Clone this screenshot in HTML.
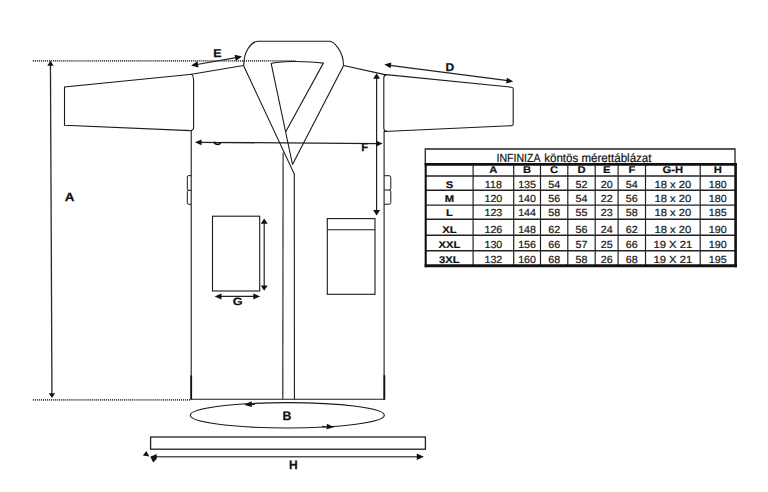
<!DOCTYPE html>
<html><head><meta charset="utf-8"><title>INFINIZA köntös mérettáblázat</title>
<style>html,body{margin:0;padding:0;background:#fff;width:768px;height:492px;overflow:hidden}svg{display:block}</style>
</head><body>
<svg width="768" height="492" viewBox="0 0 768 492" text-rendering="geometricPrecision"><line x1="32.8" y1="60.85" x2="295.5" y2="60.85" stroke="#3a3a3a" stroke-width="1.9" stroke-dasharray="1.05,0.98"/>
<line x1="32.8" y1="399.9" x2="191" y2="399.9" stroke="#3a3a3a" stroke-width="1.9" stroke-dasharray="1.05,0.98"/>
<line x1="50.45" y1="64" x2="51.95" y2="394" stroke="#2a2a2a" stroke-width="1.3"/>
<polygon points="50.45,60.70 53.58,65.67 47.32,65.67" fill="#111"/>
<polygon points="51.95,398.10 48.82,393.13 55.08,393.13" fill="#111"/>
<path d="M192,74.3 L64.5,86.9 L64.5,125.3 L190.5,130.6" stroke="#1a1a1a" fill="none" stroke-width="1.1"/>
<path d="M191.6,74.4 Q194,76 193.6,84 L193.6,127 Q193.6,130.5 190.6,130.6" stroke="#1a1a1a" fill="none" stroke-width="1.1"/>
<path d="M191.5,74.3 L243.5,65.5" stroke="#1a1a1a" fill="none" stroke-width="1.1"/>
<path d="M191.2,130.5 L191.2,399.2" stroke="#1a1a1a" fill="none" stroke-width="1.1"/>
<path d="M191.2,375.5 L191.2,399.5" stroke="#111" stroke-width="1.8"/>
<path d="M190.6,399.2 L384.3,399.2" stroke="#1a1a1a" fill="none" stroke-width="1.1"/>
<path d="M386.2,74.9 Q383.8,75.2 383.8,78 L383.8,128 Q383.8,131.3 387,131.3" stroke="#1a1a1a" fill="none" stroke-width="1.1"/>
<path d="M384.1,131 L384.1,399.2" stroke="#1a1a1a" fill="none" stroke-width="1.1"/>
<path d="M384.4,375.2 L384.4,399.8" stroke="#111" stroke-width="1.7"/>
<path d="M343.6,65.5 L383.8,74.4 L511.5,87.2 Q513.2,87.3 513.2,89 L513.2,124 Q513.2,125.6 511.5,125.7 L384,131.5" stroke="#1a1a1a" fill="none" stroke-width="1.1"/>
<path d="M243.7,65.5 C243.7,50 252,41.3 258.5,41.3 L329.7,41.3 C333,41.3 343.5,50 343.5,65.5" stroke="#1a1a1a" fill="none" stroke-width="1.1"/>
<path d="M243.5,65.5 L294.3,174 L294.4,399.2" stroke="#1a1a1a" fill="none" stroke-width="1.1"/>
<path d="M343.6,65.5 L292.5,164.5" stroke="#1a1a1a" fill="none" stroke-width="1.1"/>
<path d="M292.5,164.5 L271.2,63.6 C277,61.2 305,60.5 323.4,63.1 L286.0,131.3" stroke="#1a1a1a" fill="none" stroke-width="1.1"/>
<path d="M283.1,152.5 L282.8,399.2" stroke="#1a1a1a" fill="none" stroke-width="1.1"/>
<path d="M191.2,175.6 L188.6,175.6 Q187.3,175.6 187.3,177 L187.3,188.8 Q187.3,190.3 189,190.3 L191.2,190.3 M189,190.3 Q187.3,190.3 187.3,191.8 L187.3,202.8 Q187.3,204.3 189,204.3 L191.2,204.3" stroke="#1a1a1a" fill="none" stroke-width="1"/>
<path d="M384.2,175.7 L389,175.7 Q390.8,175.7 390.8,177.5 L390.8,188.3 Q390.8,190 389,190 L384.2,190 M389,190 Q390.8,190 390.8,191.8 L390.8,202.5 Q390.8,204.2 389,204.2 L384.2,204.2" stroke="#1a1a1a" fill="none" stroke-width="1"/>
<rect x="212.5" y="216.2" width="47.2" height="74.8" stroke="#1a1a1a" fill="none" stroke-width="1.1"/>
<rect x="327.3" y="218.6" width="47.7" height="75.7" stroke="#1a1a1a" fill="none" stroke-width="1.1"/>
<line x1="327.3" y1="229.8" x2="375" y2="229.8" stroke="#1a1a1a" fill="none" stroke-width="1.1"/>
<line x1="264.2" y1="222" x2="264.2" y2="287" stroke="#222" stroke-width="1.2"/>
<polygon points="264.20,218.40 267.66,223.80 260.74,223.80" fill="#111"/>
<polygon points="264.20,290.80 260.74,285.40 267.66,285.40" fill="#111"/>
<line x1="218" y1="296.4" x2="257" y2="296.4" stroke="#222" stroke-width="1.2"/>
<polygon points="214.60,296.40 221.51,293.38 221.51,299.42" fill="#111"/>
<polygon points="260.20,296.40 253.29,299.42 253.29,293.38" fill="#111"/>
<line x1="194" y1="65" x2="239" y2="57.1" stroke="#222" stroke-width="1.2"/>
<polygon points="191.10,65.50 197.48,61.21 198.55,67.38" fill="#111"/>
<polygon points="242.10,56.60 235.72,60.89 234.65,54.72" fill="#111"/>
<line x1="388" y1="65.2" x2="508" y2="80.7" stroke="#222" stroke-width="1.2"/>
<polygon points="384.30,64.50 391.32,62.48 390.56,68.26" fill="#111"/>
<polygon points="513.20,81.40 506.18,83.42 506.94,77.64" fill="#111"/>
<line x1="376.6" y1="76" x2="376.6" y2="212" stroke="#222" stroke-width="1.2"/>
<polygon points="376.60,73.20 380.06,78.82 373.14,78.82" fill="#111"/>
<polygon points="376.60,215.50 373.14,209.88 380.06,209.88" fill="#111"/>
<line x1="198" y1="142.35" x2="378" y2="143.55" stroke="#222" stroke-width="1.3"/>
<polygon points="195.00,142.30 201.48,139.38 201.48,145.22" fill="#111"/>
<polygon points="382.70,143.60 376.22,146.52 376.22,140.68" fill="#111"/>
<ellipse cx="287.3" cy="415.3" rx="97" ry="12.7" stroke="#1a1a1a" fill="none" stroke-width="1.1"/>
<line x1="246" y1="404.6" x2="255" y2="404.3" stroke="#222" stroke-width="1.2"/>
<polygon points="244.20,404.70 251.51,401.30 251.96,406.90" fill="#111"/>
<line x1="322" y1="426.4" x2="330" y2="427" stroke="#222" stroke-width="1.2"/>
<polygon points="334.20,427.30 326.40,429.34 326.96,423.75" fill="#111"/>
<rect x="150.6" y="437" width="274.8" height="12.2" stroke="#2a2a2a" fill="none" stroke-width="1.35"/>
<line x1="155" y1="456.8" x2="418" y2="456.8" stroke="#555" stroke-width="1.6"/>
<polygon points="423.80,456.80 416.78,460.04 416.78,453.56" fill="#111"/>
<polygon points="146.3,451.1 142.9,455.6 149.3,456.5" fill="#111"/>
<polygon points="150.3,456.8 156.6,454.1 156.8,458.7 153.2,462.6" fill="#111"/>
<text x="69.50" y="201.10" font-size="11.67" text-anchor="middle" font-family="Liberation Sans, sans-serif" font-weight="bold" fill="#111" stroke="#111" stroke-width="0.25" textLength="9.70" lengthAdjust="spacingAndGlyphs">A</text>
<text x="217.50" y="56.90" font-size="11.38" text-anchor="middle" font-family="Liberation Sans, sans-serif" font-weight="bold" fill="#111" stroke="#111" stroke-width="0.25" textLength="8.30" lengthAdjust="spacingAndGlyphs">E</text>
<text x="449.80" y="70.70" font-size="11.23" text-anchor="middle" font-family="Liberation Sans, sans-serif" font-weight="bold" fill="#111" stroke="#111" stroke-width="0.25" textLength="8.70" lengthAdjust="spacingAndGlyphs">D</text>
<text x="287.00" y="419.60" font-size="12.39" text-anchor="middle" font-family="Liberation Sans, sans-serif" font-weight="bold" fill="#111" stroke="#111" stroke-width="0.25" textLength="8.90" lengthAdjust="spacingAndGlyphs">B</text>
<text x="293.40" y="468.55" font-size="12.31" text-anchor="middle" font-family="Liberation Sans, sans-serif" font-weight="bold" fill="#111" stroke="#111" stroke-width="0.25" textLength="8.70" lengthAdjust="spacingAndGlyphs">H</text>
<text x="237.75" y="304.80" font-size="10.66" text-anchor="middle" font-family="Liberation Sans, sans-serif" font-weight="bold" fill="#111" stroke="#111" stroke-width="0.25" textLength="9.80" lengthAdjust="spacingAndGlyphs">G</text>
<text x="364.70" y="150.90" font-size="11.52" text-anchor="middle" font-family="Liberation Sans, sans-serif" font-weight="bold" fill="#111" stroke="#111" stroke-width="0.25" textLength="6.90" lengthAdjust="spacingAndGlyphs">F</text>
<g><text x="217.10" y="145.40" font-size="11.95" text-anchor="middle" font-family="Liberation Sans, sans-serif" font-weight="bold" fill="#111" stroke="#111" stroke-width="0.25" textLength="8.90" lengthAdjust="spacingAndGlyphs">C</text><rect x="211" y="130" width="12" height="11.6" fill="#fff"/></g>
<path d="M425.3,164.4 L425.3,149.0 L735,149.0 L735,164.4" stroke="#222" fill="none" stroke-width="1.3"/>
<line x1="424.7" y1="164.4" x2="736.9" y2="164.4" stroke="#111" stroke-width="2.6"/>
<line x1="425.7" y1="176.0" x2="735.4" y2="176.0" stroke="#222" stroke-width="1.4"/>
<line x1="425.7" y1="190.2" x2="735.4" y2="190.2" stroke="#222" stroke-width="1.4"/>
<line x1="425.7" y1="205.1" x2="735.4" y2="205.1" stroke="#222" stroke-width="1.4"/>
<line x1="425.7" y1="219.2" x2="735.4" y2="219.2" stroke="#222" stroke-width="1.4"/>
<line x1="425.7" y1="235.2" x2="735.4" y2="235.2" stroke="#222" stroke-width="1.4"/>
<line x1="425.7" y1="250.7" x2="735.4" y2="250.7" stroke="#222" stroke-width="1.4"/>
<line x1="473.1" y1="164.4" x2="473.1" y2="265.7" stroke="#222" stroke-width="1.2"/>
<line x1="513.7" y1="164.4" x2="513.7" y2="265.7" stroke="#222" stroke-width="1.2"/>
<line x1="540.5" y1="164.4" x2="540.5" y2="265.7" stroke="#222" stroke-width="1.2"/>
<line x1="567.8" y1="164.4" x2="567.8" y2="265.7" stroke="#222" stroke-width="1.2"/>
<line x1="595.2" y1="164.4" x2="595.2" y2="265.7" stroke="#222" stroke-width="1.2"/>
<line x1="618.1" y1="164.4" x2="618.1" y2="265.7" stroke="#222" stroke-width="1.2"/>
<line x1="645.5" y1="164.4" x2="645.5" y2="265.7" stroke="#222" stroke-width="1.2"/>
<line x1="700.2" y1="164.4" x2="700.2" y2="265.7" stroke="#222" stroke-width="1.2"/>
<line x1="425.7" y1="163.5" x2="425.7" y2="267.2" stroke="#111" stroke-width="2.1"/>
<line x1="735.6" y1="163.5" x2="735.6" y2="267.2" stroke="#111" stroke-width="2.6"/>
<line x1="424.65" y1="265.7" x2="736.9" y2="265.7" stroke="#111" stroke-width="3"/>
<text x="496.5" y="161.5" font-size="12" font-family="Liberation Sans, sans-serif" fill="#111" stroke="#111" stroke-width="0.2" textLength="44" lengthAdjust="spacingAndGlyphs">INFINIZA</text>
<text x="544.2" y="161.5" font-size="12" font-family="Liberation Sans, sans-serif" fill="#111" stroke="#111" stroke-width="0.2" textLength="107.3" lengthAdjust="spacingAndGlyphs">köntös mérettáblázat</text>
<text transform="translate(493.40,173.2) scale(1.145,1)" font-size="9.8" font-weight="bold" text-anchor="middle" font-family="Liberation Sans, sans-serif" fill="#111" stroke="#111" stroke-width="0.2">A</text>
<text transform="translate(527.10,173.2) scale(1.145,1)" font-size="9.8" font-weight="bold" text-anchor="middle" font-family="Liberation Sans, sans-serif" fill="#111" stroke="#111" stroke-width="0.2">B</text>
<text transform="translate(554.15,173.2) scale(1.145,1)" font-size="9.8" font-weight="bold" text-anchor="middle" font-family="Liberation Sans, sans-serif" fill="#111" stroke="#111" stroke-width="0.2">C</text>
<text transform="translate(581.50,173.2) scale(1.145,1)" font-size="9.8" font-weight="bold" text-anchor="middle" font-family="Liberation Sans, sans-serif" fill="#111" stroke="#111" stroke-width="0.2">D</text>
<text transform="translate(606.65,173.2) scale(1.145,1)" font-size="9.8" font-weight="bold" text-anchor="middle" font-family="Liberation Sans, sans-serif" fill="#111" stroke="#111" stroke-width="0.2">E</text>
<text transform="translate(631.80,173.2) scale(1.145,1)" font-size="9.8" font-weight="bold" text-anchor="middle" font-family="Liberation Sans, sans-serif" fill="#111" stroke="#111" stroke-width="0.2">F</text>
<text transform="translate(672.85,173.2) scale(1.145,1)" font-size="9.8" font-weight="bold" text-anchor="middle" font-family="Liberation Sans, sans-serif" fill="#111" stroke="#111" stroke-width="0.2">G-H</text>
<text transform="translate(717.80,173.2) scale(1.145,1)" font-size="9.8" font-weight="bold" text-anchor="middle" font-family="Liberation Sans, sans-serif" fill="#111" stroke="#111" stroke-width="0.2">H</text>
<text transform="translate(449.40,187.5) scale(1.145,1)" font-size="9.8" font-weight="bold" text-anchor="middle" font-family="Liberation Sans, sans-serif" fill="#111" stroke="#111" stroke-width="0.2">S</text>
<text transform="translate(493.40,187.5) scale(1.04,1)" font-size="10.3" text-anchor="middle" font-family="Liberation Sans, sans-serif" fill="#1a1a1a" stroke="#1a1a1a" stroke-width="0.22">118</text>
<text transform="translate(527.10,187.5) scale(1.04,1)" font-size="10.3" text-anchor="middle" font-family="Liberation Sans, sans-serif" fill="#1a1a1a" stroke="#1a1a1a" stroke-width="0.22">135</text>
<text transform="translate(554.15,187.5) scale(1.04,1)" font-size="10.3" text-anchor="middle" font-family="Liberation Sans, sans-serif" fill="#1a1a1a" stroke="#1a1a1a" stroke-width="0.22">54</text>
<text transform="translate(581.50,187.5) scale(1.04,1)" font-size="10.3" text-anchor="middle" font-family="Liberation Sans, sans-serif" fill="#1a1a1a" stroke="#1a1a1a" stroke-width="0.22">52</text>
<text transform="translate(606.65,187.5) scale(1.04,1)" font-size="10.3" text-anchor="middle" font-family="Liberation Sans, sans-serif" fill="#1a1a1a" stroke="#1a1a1a" stroke-width="0.22">20</text>
<text transform="translate(631.80,187.5) scale(1.04,1)" font-size="10.3" text-anchor="middle" font-family="Liberation Sans, sans-serif" fill="#1a1a1a" stroke="#1a1a1a" stroke-width="0.22">54</text>
<text transform="translate(672.85,187.5) scale(1.09,1)" font-size="10.3" text-anchor="middle" font-family="Liberation Sans, sans-serif" fill="#1a1a1a" stroke="#1a1a1a" stroke-width="0.22">18 x 20</text>
<text transform="translate(717.80,187.5) scale(1.04,1)" font-size="10.3" text-anchor="middle" font-family="Liberation Sans, sans-serif" fill="#1a1a1a" stroke="#1a1a1a" stroke-width="0.22">180</text>
<text transform="translate(449.40,201.6) scale(1.145,1)" font-size="9.8" font-weight="bold" text-anchor="middle" font-family="Liberation Sans, sans-serif" fill="#111" stroke="#111" stroke-width="0.2">M</text>
<text transform="translate(493.40,201.6) scale(1.04,1)" font-size="10.3" text-anchor="middle" font-family="Liberation Sans, sans-serif" fill="#1a1a1a" stroke="#1a1a1a" stroke-width="0.22">120</text>
<text transform="translate(527.10,201.6) scale(1.04,1)" font-size="10.3" text-anchor="middle" font-family="Liberation Sans, sans-serif" fill="#1a1a1a" stroke="#1a1a1a" stroke-width="0.22">140</text>
<text transform="translate(554.15,201.6) scale(1.04,1)" font-size="10.3" text-anchor="middle" font-family="Liberation Sans, sans-serif" fill="#1a1a1a" stroke="#1a1a1a" stroke-width="0.22">56</text>
<text transform="translate(581.50,201.6) scale(1.04,1)" font-size="10.3" text-anchor="middle" font-family="Liberation Sans, sans-serif" fill="#1a1a1a" stroke="#1a1a1a" stroke-width="0.22">54</text>
<text transform="translate(606.65,201.6) scale(1.04,1)" font-size="10.3" text-anchor="middle" font-family="Liberation Sans, sans-serif" fill="#1a1a1a" stroke="#1a1a1a" stroke-width="0.22">22</text>
<text transform="translate(631.80,201.6) scale(1.04,1)" font-size="10.3" text-anchor="middle" font-family="Liberation Sans, sans-serif" fill="#1a1a1a" stroke="#1a1a1a" stroke-width="0.22">56</text>
<text transform="translate(672.85,201.6) scale(1.09,1)" font-size="10.3" text-anchor="middle" font-family="Liberation Sans, sans-serif" fill="#1a1a1a" stroke="#1a1a1a" stroke-width="0.22">18 x 20</text>
<text transform="translate(717.80,201.6) scale(1.04,1)" font-size="10.3" text-anchor="middle" font-family="Liberation Sans, sans-serif" fill="#1a1a1a" stroke="#1a1a1a" stroke-width="0.22">180</text>
<text transform="translate(449.40,215.9) scale(1.145,1)" font-size="9.8" font-weight="bold" text-anchor="middle" font-family="Liberation Sans, sans-serif" fill="#111" stroke="#111" stroke-width="0.2">L</text>
<text transform="translate(493.40,215.9) scale(1.04,1)" font-size="10.3" text-anchor="middle" font-family="Liberation Sans, sans-serif" fill="#1a1a1a" stroke="#1a1a1a" stroke-width="0.22">123</text>
<text transform="translate(527.10,215.9) scale(1.04,1)" font-size="10.3" text-anchor="middle" font-family="Liberation Sans, sans-serif" fill="#1a1a1a" stroke="#1a1a1a" stroke-width="0.22">144</text>
<text transform="translate(554.15,215.9) scale(1.04,1)" font-size="10.3" text-anchor="middle" font-family="Liberation Sans, sans-serif" fill="#1a1a1a" stroke="#1a1a1a" stroke-width="0.22">58</text>
<text transform="translate(581.50,215.9) scale(1.04,1)" font-size="10.3" text-anchor="middle" font-family="Liberation Sans, sans-serif" fill="#1a1a1a" stroke="#1a1a1a" stroke-width="0.22">55</text>
<text transform="translate(606.65,215.9) scale(1.04,1)" font-size="10.3" text-anchor="middle" font-family="Liberation Sans, sans-serif" fill="#1a1a1a" stroke="#1a1a1a" stroke-width="0.22">23</text>
<text transform="translate(631.80,215.9) scale(1.04,1)" font-size="10.3" text-anchor="middle" font-family="Liberation Sans, sans-serif" fill="#1a1a1a" stroke="#1a1a1a" stroke-width="0.22">58</text>
<text transform="translate(672.85,215.9) scale(1.09,1)" font-size="10.3" text-anchor="middle" font-family="Liberation Sans, sans-serif" fill="#1a1a1a" stroke="#1a1a1a" stroke-width="0.22">18 x 20</text>
<text transform="translate(717.80,215.9) scale(1.04,1)" font-size="10.3" text-anchor="middle" font-family="Liberation Sans, sans-serif" fill="#1a1a1a" stroke="#1a1a1a" stroke-width="0.22">185</text>
<text transform="translate(449.40,232.8) scale(1.145,1)" font-size="9.8" font-weight="bold" text-anchor="middle" font-family="Liberation Sans, sans-serif" fill="#111" stroke="#111" stroke-width="0.2">XL</text>
<text transform="translate(493.40,232.8) scale(1.04,1)" font-size="10.3" text-anchor="middle" font-family="Liberation Sans, sans-serif" fill="#1a1a1a" stroke="#1a1a1a" stroke-width="0.22">126</text>
<text transform="translate(527.10,232.8) scale(1.04,1)" font-size="10.3" text-anchor="middle" font-family="Liberation Sans, sans-serif" fill="#1a1a1a" stroke="#1a1a1a" stroke-width="0.22">148</text>
<text transform="translate(554.15,232.8) scale(1.04,1)" font-size="10.3" text-anchor="middle" font-family="Liberation Sans, sans-serif" fill="#1a1a1a" stroke="#1a1a1a" stroke-width="0.22">62</text>
<text transform="translate(581.50,232.8) scale(1.04,1)" font-size="10.3" text-anchor="middle" font-family="Liberation Sans, sans-serif" fill="#1a1a1a" stroke="#1a1a1a" stroke-width="0.22">56</text>
<text transform="translate(606.65,232.8) scale(1.04,1)" font-size="10.3" text-anchor="middle" font-family="Liberation Sans, sans-serif" fill="#1a1a1a" stroke="#1a1a1a" stroke-width="0.22">24</text>
<text transform="translate(631.80,232.8) scale(1.04,1)" font-size="10.3" text-anchor="middle" font-family="Liberation Sans, sans-serif" fill="#1a1a1a" stroke="#1a1a1a" stroke-width="0.22">62</text>
<text transform="translate(672.85,232.8) scale(1.09,1)" font-size="10.3" text-anchor="middle" font-family="Liberation Sans, sans-serif" fill="#1a1a1a" stroke="#1a1a1a" stroke-width="0.22">18 x 20</text>
<text transform="translate(717.80,232.8) scale(1.04,1)" font-size="10.3" text-anchor="middle" font-family="Liberation Sans, sans-serif" fill="#1a1a1a" stroke="#1a1a1a" stroke-width="0.22">190</text>
<text transform="translate(449.40,247.9) scale(1.145,1)" font-size="9.8" font-weight="bold" text-anchor="middle" font-family="Liberation Sans, sans-serif" fill="#111" stroke="#111" stroke-width="0.2">XXL</text>
<text transform="translate(493.40,247.9) scale(1.04,1)" font-size="10.3" text-anchor="middle" font-family="Liberation Sans, sans-serif" fill="#1a1a1a" stroke="#1a1a1a" stroke-width="0.22">130</text>
<text transform="translate(527.10,247.9) scale(1.04,1)" font-size="10.3" text-anchor="middle" font-family="Liberation Sans, sans-serif" fill="#1a1a1a" stroke="#1a1a1a" stroke-width="0.22">156</text>
<text transform="translate(554.15,247.9) scale(1.04,1)" font-size="10.3" text-anchor="middle" font-family="Liberation Sans, sans-serif" fill="#1a1a1a" stroke="#1a1a1a" stroke-width="0.22">66</text>
<text transform="translate(581.50,247.9) scale(1.04,1)" font-size="10.3" text-anchor="middle" font-family="Liberation Sans, sans-serif" fill="#1a1a1a" stroke="#1a1a1a" stroke-width="0.22">57</text>
<text transform="translate(606.65,247.9) scale(1.04,1)" font-size="10.3" text-anchor="middle" font-family="Liberation Sans, sans-serif" fill="#1a1a1a" stroke="#1a1a1a" stroke-width="0.22">25</text>
<text transform="translate(631.80,247.9) scale(1.04,1)" font-size="10.3" text-anchor="middle" font-family="Liberation Sans, sans-serif" fill="#1a1a1a" stroke="#1a1a1a" stroke-width="0.22">66</text>
<text transform="translate(672.85,247.9) scale(1.09,1)" font-size="10.3" text-anchor="middle" font-family="Liberation Sans, sans-serif" fill="#1a1a1a" stroke="#1a1a1a" stroke-width="0.22">19 X 21</text>
<text transform="translate(717.80,247.9) scale(1.04,1)" font-size="10.3" text-anchor="middle" font-family="Liberation Sans, sans-serif" fill="#1a1a1a" stroke="#1a1a1a" stroke-width="0.22">190</text>
<text transform="translate(449.40,262.9) scale(1.145,1)" font-size="9.8" font-weight="bold" text-anchor="middle" font-family="Liberation Sans, sans-serif" fill="#111" stroke="#111" stroke-width="0.2">3XL</text>
<text transform="translate(493.40,262.9) scale(1.04,1)" font-size="10.3" text-anchor="middle" font-family="Liberation Sans, sans-serif" fill="#1a1a1a" stroke="#1a1a1a" stroke-width="0.22">132</text>
<text transform="translate(527.10,262.9) scale(1.04,1)" font-size="10.3" text-anchor="middle" font-family="Liberation Sans, sans-serif" fill="#1a1a1a" stroke="#1a1a1a" stroke-width="0.22">160</text>
<text transform="translate(554.15,262.9) scale(1.04,1)" font-size="10.3" text-anchor="middle" font-family="Liberation Sans, sans-serif" fill="#1a1a1a" stroke="#1a1a1a" stroke-width="0.22">68</text>
<text transform="translate(581.50,262.9) scale(1.04,1)" font-size="10.3" text-anchor="middle" font-family="Liberation Sans, sans-serif" fill="#1a1a1a" stroke="#1a1a1a" stroke-width="0.22">58</text>
<text transform="translate(606.65,262.9) scale(1.04,1)" font-size="10.3" text-anchor="middle" font-family="Liberation Sans, sans-serif" fill="#1a1a1a" stroke="#1a1a1a" stroke-width="0.22">26</text>
<text transform="translate(631.80,262.9) scale(1.04,1)" font-size="10.3" text-anchor="middle" font-family="Liberation Sans, sans-serif" fill="#1a1a1a" stroke="#1a1a1a" stroke-width="0.22">68</text>
<text transform="translate(672.85,262.9) scale(1.09,1)" font-size="10.3" text-anchor="middle" font-family="Liberation Sans, sans-serif" fill="#1a1a1a" stroke="#1a1a1a" stroke-width="0.22">19 X 21</text>
<text transform="translate(717.80,262.9) scale(1.04,1)" font-size="10.3" text-anchor="middle" font-family="Liberation Sans, sans-serif" fill="#1a1a1a" stroke="#1a1a1a" stroke-width="0.22">195</text></svg>
</body></html>
